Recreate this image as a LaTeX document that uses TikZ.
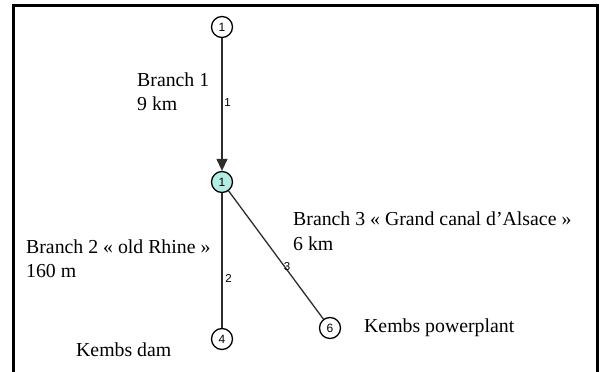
\documentclass[tikz,border=0pt]{standalone}
\usepackage{fontspec}
\setmainfont{Liberation Serif}
\newfontfamily\numfont{Liberation Sans}
\usetikzlibrary{arrows.meta}
\definecolor{nodecyan}{RGB}{178,236,226}
\definecolor{edgegray}{RGB}{45,45,45}
\begin{document}
\begin{tikzpicture}[x=1pt,y=-1pt,
  junc/.style={circle,draw=black,line width=1.3pt,minimum size=21pt,inner sep=0pt,font=\numfont\fontsize{12}{14}\selectfont},
  txt/.style={anchor=base west,inner sep=0pt,font=\fontsize{19.8}{24}\selectfont},
  elab/.style={inner sep=0pt,font=\numfont\fontsize{11.5}{13}\selectfont},
  link/.style={draw=edgegray,line width=1.3pt}]
\useasboundingbox (0,0) rectangle (600,372);
\fill[white] (0,0) rectangle (600,372);
\draw[line width=3pt] (13,373) -- (13,5.5) -- (597,5.5) -- (597,373);
% junctions
\node[junc] (n1) at (222,27) {1};
\node[junc,fill=nodecyan] (c1) at (222,182) {1};
\node[junc] (n4) at (222,339) {4};
\node[junc] (n6) at (330,328) {6};
% connectors
\draw[link,-{Triangle[length=12pt,width=11pt]}] (n1) -- (c1);
\draw[link] (c1) -- (n4);
\draw[link] (c1) -- (n6);
% edge labels
\node[elab] (l1) at (227.5,103) {1};
\node[elab] (l2) at (228.5,278) {2};
\node[elab] (l3) at (287,267) {3};
% texts
\node[txt] (b1a) at (137,86) {Branch 1};
\node[txt] (b1b) at (137,110) {9 km};
\node[txt] (b2a) at (26,253) {Branch 2 « old Rhine »};
\node[txt] (b2b) at (26,277) {160 m};
\node[txt] (b3a) at (293,225) {Branch 3 « Grand canal d’Alsace »};
\node[txt] (b3b) at (293,250) {6 km};
\node[txt] (kp) at (364,332) {Kembs powerplant};
\node[txt] (kd) at (76,356) {Kembs dam};
\end{tikzpicture}
\end{document}
